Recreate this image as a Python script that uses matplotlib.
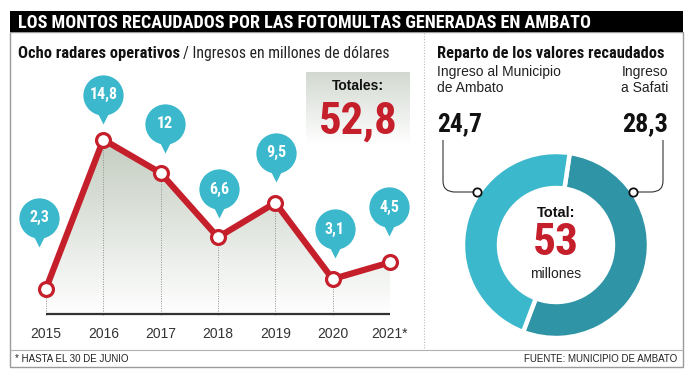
import numpy as np
import matplotlib
matplotlib.use("Agg")
import matplotlib.pyplot as plt
from matplotlib import font_manager as fm
from matplotlib.patches import Polygon, Rectangle, PathPatch
from matplotlib.path import Path
from matplotlib.colors import LinearSegmentedColormap
from matplotlib.transforms import offset_copy

# ---------------- data ----------------
years = ["2015", "2016", "2017", "2018", "2019", "2020", "2021*"]
ingresos = [2.3, 14.8, 12, 6.6, 9.5, 3.1, 4.5]
ingresos_labels = ["2,3", "14,8", "12", "6,6", "9,5", "3,1", "4,5"]
total_label = "52,8"
reparto_names = ["Ingreso a Safati", "Ingreso al Municipio de Ambato"]
reparto_values = [28.3, 24.7]
reparto_labels = ["28,3", "24,7"]
total_reparto = "53"

# ---------------- fonts ----------------
entries = fm.fontManager.ttflist
def _w(f):
    try:
        return int(f.weight)
    except Exception:
        return {"bold": 700, "normal": 400, "regular": 400}.get(str(f.weight), 400)

prefs = ["Roboto Condensed", "IBM Plex Sans Condensed", "Fira Sans Condensed",
         "PT Sans Narrow", "Liberation Sans Narrow", "Encode Sans Condensed",
         "Barlow Semi Condensed"]
CB = CR = None
for fam in prefs:
    fs = [f for f in entries if f.name == fam and "Italic" not in f.fname]
    bold = [f for f in fs if _w(f) == 700 and "[" not in f.fname]
    reg = [f for f in fs if _w(f) == 400 and "[" not in f.fname]
    if bold:
        CB = fm.FontProperties(fname=bold[0].fname)
        CR = fm.FontProperties(fname=reg[0].fname) if reg else fm.FontProperties(family="Liberation Sans")
        break
if CB is None:
    CB = fm.FontProperties(family="Liberation Sans", weight="bold")
    CR = fm.FontProperties(family="Liberation Sans")
SANS = "Liberation Sans"

W, H = 696, 389
fig = plt.figure(figsize=(W / 100, H / 100), dpi=100)
fig.patch.set_facecolor("white")
renderer = fig.canvas.get_renderer()

def fit(t, target_w, lo=0.6, hi=1.4):
    w = t.get_window_extent(renderer=renderer).width
    if w > 0:
        k = min(max(target_w / w, lo), hi)
        t.set_fontsize(t.get_fontsize() * k)

# overlay axes in pixel coordinates
ax0 = fig.add_axes([0, 0, 1, 1])
ax0.set_xlim(0, W)
ax0.set_ylim(H, 0)
ax0.axis("off")

RED = "#c61f2c"
CYAN = "#3bb8cc"
DARK_TEAL = "#2f94a5"

# frame
ax0.add_patch(Rectangle((10, 32), 673, 335, facecolor="white", edgecolor="#9a9a9a", lw=1))
ax0.add_patch(Rectangle((10, 11), 673, 21, facecolor="black", edgecolor="none"))
ax0.plot([10, 683], [350, 350], color="#b0b0b0", lw=0.8)
ax0.plot([424, 424], [33, 350], color="#bbbbbb", lw=0.8, ls=(0, (1, 1.5)))

t = ax0.text(18, 22.5, "LOS MONTOS RECAUDADOS POR LAS FOTOMULTAS GENERADAS EN AMBATO",
             color="white", fontproperties=CB, fontsize=12.5, va="center", ha="left")
fit(t, 574)
t1 = ax0.text(18, 53, "Ocho radares operativos", fontproperties=CB, fontsize=12,
              va="center", ha="left", color="#111111")
fit(t1, 162)
t = ax0.text(437, 53, "Reparto de los valores recaudados", fontproperties=CB, fontsize=12,
             va="center", ha="left", color="#111111")
fit(t, 228)
bb = t1.get_window_extent(renderer=renderer)
t = ax0.text(bb.x1 + 3, 53, "/ Ingresos en millones de dólares", fontproperties=CR, fontsize=10,
             va="center", ha="left", color="#222222")
fit(t, 388 - bb.x1 - 3)

# totales box with gradient
grad_box = np.linspace(0, 1, 128).reshape(-1, 1)
cm_box = LinearSegmentedColormap.from_list("b", ["#d3d9d1", "#ffffff"])
ax0.imshow(grad_box, extent=[306, 410, 145, 72], cmap=cm_box, aspect="auto", zorder=1)
ax0.set_xlim(0, W)
ax0.set_ylim(H, 0)
ax0.text(358, 86, "Totales:", fontfamily=SANS, fontweight="bold", fontsize=10,
         ha="center", va="center", color="#111111", zorder=2)
t = ax0.text(358, 122, total_label, fontproperties=CB, fontsize=36, ha="center", va="center",
             color=RED, zorder=2)
fit(t, 79)

# footer
ax0.text(15, 359, "* HASTA EL 30 DE JUNIO", fontfamily=SANS, fontsize=7, va="center",
         ha="left", color="#222222")
ax0.text(677, 359, "FUENTE: MUNICIPIO DE AMBATO", fontfamily=SANS, fontsize=7,
         va="center", ha="right", color="#222222")

# ---------------- line chart ----------------
x0_px, x1_px, y0_px, ppu = 46, 390, 316, 11.92
ymax = 16
ax1 = fig.add_axes([x0_px / W, (H - y0_px) / H, (x1_px - x0_px) / W, ymax * ppu / H])
ax1.patch.set_alpha(0)
x = np.arange(len(years))
grad = np.linspace(0, 1, 256).reshape(-1, 1)
cm_fill = LinearSegmentedColormap.from_list("g", ["#ffffff", "#c4cdc1"])
im = ax1.imshow(grad, extent=[0, len(years) - 1, 0, max(ingresos)], origin="lower",
                aspect="auto", cmap=cm_fill, zorder=1)
verts = [(0, 0)] + list(zip(x, ingresos)) + [(len(years) - 1, 0)]
poly = Polygon(verts, closed=True, facecolor="none", edgecolor="none")
ax1.add_patch(poly)
im.set_clip_path(poly)
for xi, v in zip(x, ingresos):
    ax1.plot([xi, xi], [0, v], color="#8f8f8f", lw=0.7, ls=(0, (1, 1.5)), zorder=2)
ax1.plot([0, len(years) - 1], [0.15, 0.15], color="#333333", lw=1.6, zorder=3,
         solid_capstyle="butt")
ax1.plot(x, ingresos, color=RED, lw=4.5, zorder=4, solid_joinstyle="round", clip_on=False)
ax1.plot(x, ingresos, ls="none", marker="o", ms=10, mfc="white", mec=RED, mew=2.3, zorder=5,
         clip_on=False)

# balloons (offsets in pixels)
b_dx = [-7, 0, 4, 1, 1, 2, -1]
b_dy = [71, 45, 49, 48, 50, 50, 55]
for xi, v, lab, dx, dy in zip(x, ingresos, ingresos_labels, b_dx, b_dy):
    tr = offset_copy(ax1.transData, fig=fig, x=dx, y=dy, units="dots")
    tr2 = offset_copy(ax1.transData, fig=fig, x=dx, y=dy - 19, units="dots")
    ax1.plot([xi], [v], transform=tr2, marker="v", ms=14, mfc=CYAN, mec="none",
             clip_on=False, zorder=6)
    ax1.plot([xi], [v], transform=tr, marker="o", ms=29, mfc=CYAN, mec="none",
             clip_on=False, zorder=6)
    ax1.text(xi, v, lab, transform=tr, ha="center", va="center", color="white",
             fontproperties=CB, fontsize=11.5, zorder=7)

ax1.set_xlim(0, len(years) - 1)
ax1.set_ylim(0, ymax)
ax1.set_xticks(x)
ax1.set_xticklabels(years, fontfamily=SANS, fontsize=10, color="#333333")
ax1.tick_params(axis="x", length=0, pad=8)
ax1.set_yticks([])
for s in ax1.spines.values():
    s.set_visible(False)

# ---------------- donut ----------------
cx, cy = 556, 245
ax2 = fig.add_axes([(cx - 100) / W, (H - cy - 100) / H, 200 / W, 200 / H])
ax2.pie(reparto_values, colors=[DARK_TEAL, CYAN], startangle=81.5, counterclock=False,
        radius=0.93, wedgeprops=dict(width=0.36, edgecolor="white", linewidth=3.2))
ax2.set_xlim(-1, 1)
ax2.set_ylim(-1, 1)
ax2.set_aspect("equal")
ax2.axis("off")

# top overlay
ax3 = fig.add_axes([0, 0, 1, 1])
ax3.set_xlim(0, W)
ax3.set_ylim(H, 0)
ax3.axis("off")

ax3.text(cx, 213, "Total:", fontfamily=SANS, fontweight="bold", fontsize=10.5,
         ha="center", va="center", color="#111111")
t = ax3.text(cx, 243, total_reparto, fontproperties=CB, fontsize=36, ha="center", va="center",
             color=RED)
fit(t, 46)
ax3.text(cx, 274, "millones", fontfamily=SANS, fontsize=10, ha="center", va="center",
         color="#222222")

# labels right panel
ax3.text(437, 80, "Ingreso al Municipio\nde Ambato", fontfamily=SANS, fontsize=10,
         ha="left", va="center", linespacing=1.25, color="#222222")
ax3.text(668, 80, "Ingreso\na Safati", fontfamily=SANS, fontsize=10,
         ha="right", va="center", linespacing=1.25, color="#222222")
t = ax3.text(437, 124, reparto_labels[1], fontproperties=CB, fontsize=16, ha="left",
             va="center", color="#111111")
fit(t, 45)
t = ax3.text(668, 124, reparto_labels[0], fontproperties=CB, fontsize=16, ha="right",
             va="center", color="#111111")
fit(t, 46)

# connectors
for path_pts in [[(443, 140), (443, 181), (443, 192), (455, 192), (477, 192)],
                 [(663, 140), (663, 181), (663, 192), (651, 192), (633, 192)]]:
    codes = [Path.MOVETO, Path.LINETO, Path.CURVE3, Path.CURVE3, Path.LINETO]
    ax3.add_patch(PathPatch(Path(path_pts, codes), facecolor="none", edgecolor="#333333", lw=0.8))
ax3.plot([477, 633], [192, 192], ls="none", marker="o", ms=6, mfc="white", mec="#111111",
         mew=1.3, zorder=10)
ax3.set_xlim(0, W)
ax3.set_ylim(H, 0)

fig.savefig("out.png", dpi=100, facecolor="white")
